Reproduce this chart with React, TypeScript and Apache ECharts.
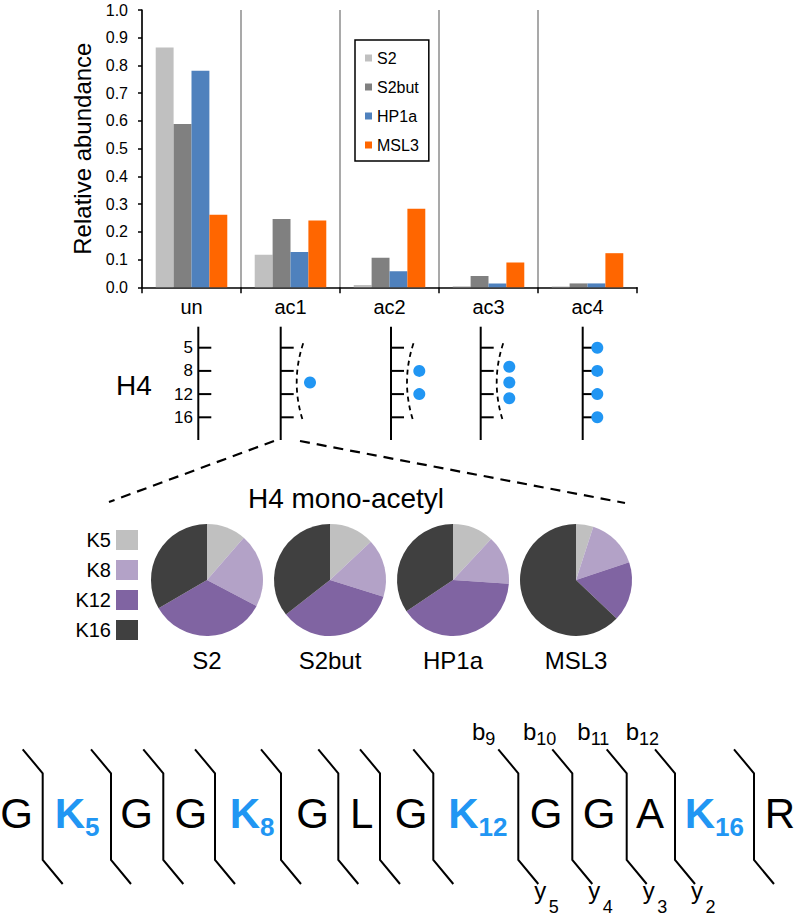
import React, { useEffect, useRef } from 'react';
import * as echarts from 'echarts';

// ---------- data ----------
const categories = ['un', 'ac1', 'ac2', 'ac3', 'ac4'];
const seriesNames = ['S2', 'S2but', 'HP1a', 'MSL3'];
const s2Values = [0.865, 0.117, 0.008, 0.004, 0.003];
const s2butValues = [0.589, 0.246, 0.107, 0.041, 0.014];
const hp1aValues = [0.781, 0.127, 0.058, 0.014, 0.014];
const msl3Values = [0.262, 0.241, 0.283, 0.089, 0.123];
const barColors = ['#c0c0c0', '#808080', '#4f81bd', '#ff6600'];

const siteLabels = ['K5', 'K8', 'K12', 'K16'];
const siteColors = ['#c0c0c0', '#b3a2c7', '#8064a2', '#404040'];
const pieS2 = [0.114, 0.213, 0.339, 0.334];
const pieS2but = [0.13, 0.168, 0.346, 0.356];
const pieHP1a = [0.119, 0.142, 0.395, 0.344];
const pieMSL3 = [0.05, 0.149, 0.172, 0.629];
const pieValues = [pieS2, pieS2but, pieHP1a, pieMSL3];

const h4Positions = ['5', '8', '12', '16'];
// schematic acetyl marks per state (row index positions on the H4 tail)
const acDots = [[], [1.5], [1, 2], [0.82, 1.5, 2.18], [0, 1, 2, 3]];
const acAmbiguous = [false, true, true, true, false];

const residues = ['G', 'K', 'G', 'G', 'K', 'G', 'L', 'G', 'K', 'G', 'G', 'A', 'K', 'R'];
const residueNumbers = ['', '5', '', '', '8', '', '', '', '12', '', '', '', '16', ''];
const bIonNumbers = ['9', '10', '11', '12'];
const yIonNumbers = ['5', '4', '3', '2'];
const fragmentBonds = [8, 9, 10, 11];

// ---------- layout ----------
const FONT = 'Liberation Sans, Arial, Helvetica, sans-serif';
const BLUE = '#2196f3';
const pieCentersX = [207, 330, 453, 576];
const pieCenterY = 580;
const h4AxisX = [198.3, 280.7, 391, 480.7, 582.7];
const dotOffset = [0, 29.3, 28.3, 28.6, 14.6];
const residueX = [16.7, 70, 136.7, 190.8, 245, 312.5, 361.7, 411, 463.5, 546, 599, 650, 700, 780];
const bracketX = [42.7, 111, 163.3, 215, 281, 338.3, 380, 433.3, 518.3, 572.3, 626.7, 675, 754];

function buildGraphics() {
  const g: any[] = [];
  const txt = (x: number, y: number, text: string, fontSize: number, align = 'center', extra: any = {}) =>
    g.push({
      type: 'text',
      x,
      y,
      silent: true,
      style: { text, fontSize, fontFamily: FONT, fill: '#000', align, verticalAlign: 'middle', ...extra },
    });
  const line = (x1: number, y1: number, x2: number, y2: number, w = 2, dash?: number[]) =>
    g.push({
      type: 'line',
      silent: true,
      shape: { x1, y1, x2, y2 },
      style: { stroke: '#000', lineWidth: w, lineDash: dash },
    });

  // H4 tail schematic
  txt(134, 385, 'H4', 28);
  const rowY = (r: number) => 347.7 + r * 23.2;
  h4AxisX.forEach((x, i) => {
    line(x, 326.7, x, 440, 2);
    h4Positions.forEach((p, r) => {
      line(x, rowY(r), x + 13, rowY(r), 2);
      if (i === 0) txt(193, rowY(r), p, 17, 'right');
    });
    if (acAmbiguous[i]) {
      g.push({
        type: 'bezierCurve',
        silent: true,
        shape: { x1: x + 22.5, y1: 343.3, x2: x + 22.5, y2: 421.7, cpx1: x + 9.5, cpy1: 382.5 },
        style: { stroke: '#000', lineWidth: 1.8, lineDash: [5, 4], fill: null },
      });
    }
    acDots[i].forEach((r) => {
      g.push({
        type: 'circle',
        silent: true,
        shape: { cx: x + dotOffset[i], cy: rowY(r), r: 6 },
        style: { fill: BLUE },
        z: 10,
      });
    });
  });

  // zoom lines
  line(274, 441, 109, 502, 2.2, [10, 7]);
  line(300, 441, 625, 503, 2.2, [10, 7]);

  txt(346, 498, 'H4 mono-acetyl', 28);
  pieCentersX.forEach((cx, i) => txt(cx, 660, seriesNames[i], 24));

  // peptide
  residues.forEach((r, i) => {
    const isK = residueNumbers[i] !== '';
    txt(residueX[i], 813, r, 42, 'center', isK ? { fill: BLUE, fontWeight: 'bold' } : {});
    if (isK) txt(residueX[i] + 15, 827, residueNumbers[i], 26, 'left', { fill: BLUE, fontWeight: 'bold' });
  });
  bracketX.forEach((x) => {
    g.push({
      type: 'polyline',
      silent: true,
      shape: { points: [[x - 20, 749.3], [x, 773.3], [x, 860], [x + 20, 884]] },
      style: { stroke: '#000', lineWidth: 2, fill: null },
    });
  });
  fragmentBonds.forEach((bi, k) => {
    const x = bracketX[bi];
    const subLeft = x - 20 - 10 - bIonNumbers[k].length * 3;
    txt(subLeft, 731.7, 'b', 24, 'right');
    txt(subLeft, 738.8, bIonNumbers[k], 18, 'left');
    const left = x + 20 - 4;
    txt(left, 890.7, 'y', 24, 'left');
    txt(left + 14.5, 906.8, yIonNumbers[k], 18, 'left');
  });
  return g;
}

export default function App() {
  const ref = useRef<HTMLDivElement>(null);
  useEffect(() => {
    document.body.style.margin = '0';
    const chart = echarts.init(ref.current!, null, { renderer: 'svg' });
    const barData = [s2Values, s2butValues, hp1aValues, msl3Values];
    const option: any = {
      animation: false,
      textStyle: { fontFamily: FONT, color: '#000' },
      grid: { left: 142, top: 10, width: 495, height: 277.3, containLabel: false },
      legend: [
        {
          data: seriesNames,
          orient: 'vertical',
          left: 355,
          top: 40,
          selectedMode: false,
          icon: 'rect',
          itemWidth: 7,
          itemHeight: 7,
          itemGap: 13,
          padding: [10, 10, 8, 10],
          borderColor: '#000',
          borderWidth: 1.5,
          textStyle: { fontSize: 16, lineHeight: 16, color: '#000', fontFamily: FONT },
        },
        {
          data: siteLabels,
          orient: 'vertical',
          right: 669,
          top: 530,
          align: 'right',
          selectedMode: false,
          icon: 'rect',
          itemWidth: 22,
          itemHeight: 20,
          itemGap: 10,
          padding: 0,
          textStyle: { fontSize: 20, color: '#000', fontFamily: FONT },
        },
      ],
      xAxis: {
        type: 'category',
        data: categories,
        axisLine: { lineStyle: { color: '#000', width: 1.5 } },
        axisTick: { show: true, length: 6, lineStyle: { color: '#000', width: 1.5 } },
        axisLabel: { fontSize: 20, color: '#000', margin: 10, fontFamily: FONT },
        splitLine: { show: true, showMaxLine: false, lineStyle: { color: '#8c8c8c', width: 1.5 } },
      },
      yAxis: {
        type: 'value',
        min: 0,
        max: 1,
        interval: 0.1,
        name: 'Relative abundance',
        nameLocation: 'middle',
        nameGap: 40,
        nameTextStyle: { fontSize: 24, color: '#000', fontFamily: FONT },
        axisLine: { show: true, lineStyle: { color: '#000', width: 1.5 } },
        axisTick: { show: true, length: 4, lineStyle: { color: '#000', width: 1.5 } },
        axisLabel: { fontSize: 16, color: '#000', margin: 14, fontFamily: FONT, formatter: (v: number) => v.toFixed(1) },
        splitLine: { show: false },
      },
      series: [
        ...seriesNames.map((name, i) => ({
          type: 'bar',
          name,
          data: barData[i],
          barGap: '0%',
          barCategoryGap: '27.7%',
          itemStyle: { color: barColors[i] },
          silent: true,
        })),
        ...pieValues.map((vals, i) => ({
          type: 'pie',
          name: seriesNames[i] + ' mono-acetyl',
          center: [pieCentersX[i], pieCenterY],
          radius: 56,
          startAngle: 90,
          clockwise: true,
          silent: true,
          label: { show: false },
          labelLine: { show: false },
          itemStyle: { borderWidth: 0 },
          data: vals.map((v, j) => ({ name: siteLabels[j], value: v, itemStyle: { color: siteColors[j] } })),
        })),
      ],
      graphic: buildGraphics(),
    };
    chart.setOption(option);
    return () => chart.dispose();
  }, []);
  return <div ref={ref} style={{ width: 807, height: 919 }} />;
}
